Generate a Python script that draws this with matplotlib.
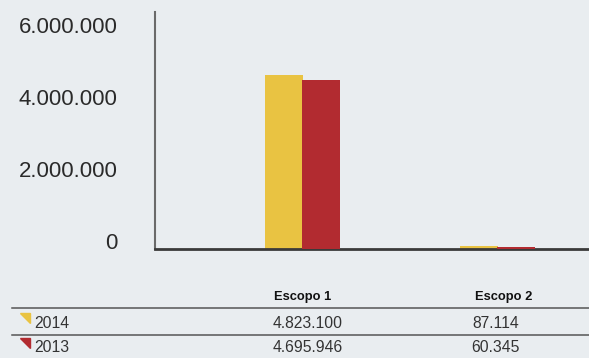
import matplotlib.pyplot as plt
import matplotlib.transforms as mtransforms
from matplotlib.lines import Line2D
import numpy as np

plt.rcParams['font.family'] = ['Liberation Sans', 'DejaVu Sans']

categories = ['Escopo 1', 'Escopo 2']
years = ['2014', '2013']
values_2014 = [4823100, 87114]
values_2013 = [4695946, 60345]
yticks = [0, 2000000, 4000000, 6000000]
colors = ['#e9c342', '#b22b30']
bg = '#e9edf0'

def fmt(v):
    return f'{v:,}'.replace(',', '.')

W, H = 589, 358
fig = plt.figure(figsize=(W / 100, H / 100), dpi=100, facecolor=bg)
ax = fig.add_axes([155 / W, (H - 249) / H, (W - 155) / W, (249 - 12) / H])
ax.set_facecolor(bg)

x = np.arange(len(categories))
w = 0.195
ax.bar(x - w / 2, values_2014, width=w, color=colors[0], zorder=2)
ax.bar(x + w / 2 - 0.005, values_2013, width=w, color=colors[1], zorder=3)

ax.set_xlim(-0.761, 1.47)
ax.set_ylim(0, 6.583e6)
ax.set_yticks(yticks)
ax.set_yticklabels([fmt(t) for t in yticks], fontsize=16, color='#2a2a2a')
for lab in ax.get_yticklabels():
    lab.set_verticalalignment('baseline')
ax.tick_params(axis='y', length=0, pad=27)
ax.set_xticks([])
for s in ['top', 'right']:
    ax.spines[s].set_visible(False)
ax.spines['left'].set_color('#6a6a6a')
ax.spines['left'].set_linewidth(1.5)
ax.spines['bottom'].set_color('#3a3a3a')
ax.spines['bottom'].set_linewidth(2)

# table below the chart
tr = mtransforms.blended_transform_factory(ax.transData, fig.transFigure)
fy = lambda py: 1 - py / H
head_dx = [0.0, 0.033]
val_dx = [0.023, -0.01]
for i, c in enumerate(categories):
    fig.text(x[i] + head_dx[i], fy(297), c, transform=tr, ha='center', va='center',
             fontsize=9.3, fontweight='bold', color='#111111')
for py in [308, 335]:
    fig.add_artist(Line2D([12 / W, 1], [fy(py), fy(py)], color='#555555', lw=1.1))

rows = [values_2014, values_2013]
row_y = [323, 348]
for r, (yr, vals) in enumerate(zip(years, rows)):
    py = row_y[r]
    tri = plt.Polygon([[20 / W, fy(py - 10)], [30 / W, fy(py - 10)], [30 / W, fy(py)]],
                      closed=True, color=colors[r], transform=fig.transFigure)
    fig.add_artist(tri)
    fig.text(34 / W, fy(py), yr, ha='left', va='center', fontsize=11.3, color='#333333')
    for i, v in enumerate(vals):
        fig.text(x[i] + val_dx[i], fy(py), fmt(v), transform=tr, ha='center', va='center',
                 fontsize=11.3, color='#333333')

fig.savefig('out.png', dpi=100, facecolor=bg)
